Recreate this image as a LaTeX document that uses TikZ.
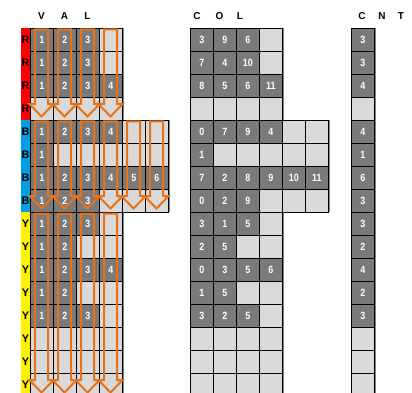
\documentclass[tikz,border=0pt]{standalone}
\usepackage{fontspec}
\setmainfont{Liberation Sans}
\newfontfamily\numfont[FakeStretch=0.85]{Liberation Sans}

\definecolor{darkcell}{RGB}{122,122,122}
\definecolor{lightcell}{RGB}{217,217,217}
\definecolor{arroworange}{RGB}{232,114,26}
\definecolor{barblue}{RGB}{0,160,226}

\tikzset{
  cell/.style={draw=black, line width=0.9pt, minimum size=23pt, inner sep=0pt, anchor=north west},
  emptycell/.style={cell, fill=lightcell},
  fullcell/.style={cell, fill=darkcell, text=white, font=\numfont\bfseries\fontsize{10.5}{10.5}\selectfont},
  header/.style={font=\bfseries\fontsize{10}{10}\selectfont},
  rowtag/.style={font=\bfseries\fontsize{11}{11}\selectfont},
  flow/.style={draw=arroworange, line width=2pt, line join=miter},
  edgeshade/.style={draw=gray, line width=1.5pt},
}

% centre x, top y, head y
\newcommand{\flowarrow}[3]{%
  \draw[flow] (#1-6.5,#2) -- (#1+6.5,#2) -- (#1+6.5,#3) -- (#1+12,#3)
    -- (#1,#3+12.5) -- (#1-12,#3) -- (#1-6.5,#3) -- cycle;}

\begin{document}
\begin{tikzpicture}[x=1pt,y=-1pt]
            \useasboundingbox (0,0) rectangle (412,393);
            % headers
            \node[header] (hV) at (41.5,16) {V};
            \node[header] (hA) at (64.5,16) {A};
            \node[header] (hL) at (87.5,16) {L};
            \node[header] (hC) at (197,16) {C};
            \node[header] (hO) at (219.5,16) {O};
            \node[header] (hL2) at (240,16) {L};
            \node[header] (hC2) at (362,16) {C};
            \node[header] (hN) at (382,16) {N};
            \node[header] (hT) at (401,16) {T};
            % colour bars
            \fill[red] (21,28) rectangle (30,120);
            \fill[barblue] (21,120) rectangle (30,212);
            \fill[yellow] (21,212) rectangle (30,396);
            \foreach \r/\t in {1/R,2/R,3/R,4/R,5/B,6/B,7/B,8/B,
                               9/Y,10/Y,11/Y,12/Y,13/Y,14/Y,15/Y,16/Y}
              \node[rowtag] (tag-\r) at (25.5,{16.5+23*\r}) {\t};
            % shading on the right edges
            \draw[edgeshade] (123,28) -- (123,120) (169,120) -- (169,212) (123,212) -- (123,396);
            \draw[edgeshade] (283,28) -- (283,120) (329,120) -- (329,212) (283,212) -- (283,396);
            \draw[edgeshade] (375,28) -- (375,396);
            % empty grid
            \foreach \r/\n in {1/4,2/4,3/4,4/4,5/6,6/6,7/6,8/6,
                               9/4,10/4,11/4,12/4,13/4,14/4,15/4,16/4} {
              \foreach \k in {1,...,\n} {
                \node[emptycell] (val-\r-\k) at ({7+23*\k},{5+23*\r}) {};
                \node[emptycell] (col-\r-\k) at ({167+23*\k},{5+23*\r}) {};
              }
              \node[emptycell] (cnt-\r) at (351,{5+23*\r}) {};
            }
            % filled cells
            \foreach \r/\cols/\cnt in {1/{3,9,6}/3, 2/{7,4,10}/3, 3/{8,5,6,11}/4,
                                       5/{0,7,9,4}/4, 6/{1}/1, 7/{7,2,8,9,10,11}/6, 8/{0,2,9}/3,
                                       9/{3,1,5}/3, 10/{2,5}/2, 11/{0,3,5,6}/4, 12/{1,5}/2, 13/{3,2,5}/3} {
              \foreach \v [count=\k] in \cols {
                \node[fullcell] (vnum-\r-\k) at ({7+23*\k},{5+23*\r}) {\k};
                \node[fullcell] (cnum-\r-\k) at ({167+23*\k},{5+23*\r}) {\v};
              }
              \node[fullcell] (nnum-\r) at (351,{5+23*\r}) {\cnt};
            }
            % arrows
            \foreach \k in {1,...,4} {\flowarrow{18.5+23*\k}{29.5}{104}}
            \foreach \k in {1,...,6} {\flowarrow{18.5+23*\k}{121.5}{196}}
            \foreach \k in {1,...,4} {\flowarrow{18.5+23*\k}{213.5}{380}}
        \end{tikzpicture}
\end{document}
